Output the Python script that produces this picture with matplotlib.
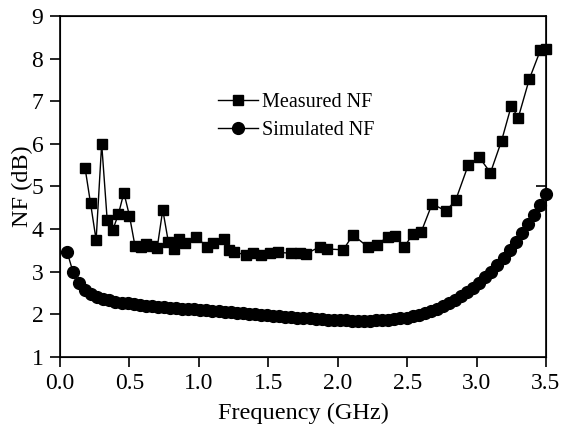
import numpy as np
import matplotlib
matplotlib.use('Agg')
import matplotlib.pyplot as plt

# measured noise figure
meas_f = [0.18, 0.22, 0.26, 0.30, 0.34, 0.38, 0.42, 0.46, 0.50, 0.54, 0.58, 0.62,
          0.66, 0.70, 0.74, 0.78, 0.82, 0.86, 0.90, 0.98, 1.06, 1.10, 1.18, 1.22,
          1.25, 1.34, 1.39, 1.45, 1.51, 1.57, 1.66, 1.73, 1.77, 1.87, 1.92, 2.04,
          2.11, 2.22, 2.28, 2.36, 2.41, 2.48, 2.54, 2.60, 2.68, 2.78, 2.85, 2.94,
          3.02, 3.10, 3.18, 3.25, 3.30, 3.38, 3.46, 3.50]
meas_nf = [5.44, 4.60, 3.74, 6.00, 4.20, 3.98, 4.34, 4.85, 4.31, 3.60, 3.58, 3.65,
           3.60, 3.56, 4.45, 3.70, 3.52, 3.77, 3.68, 3.82, 3.57, 3.66, 3.76, 3.51,
           3.46, 3.39, 3.43, 3.39, 3.43, 3.45, 3.43, 3.43, 3.41, 3.58, 3.53, 3.51,
           3.86, 3.57, 3.62, 3.82, 3.84, 3.58, 3.88, 3.92, 4.59, 4.42, 4.68, 5.50,
           5.68, 5.32, 6.07, 6.89, 6.61, 7.52, 8.20, 8.22]

# simulated noise figure
sim_f = np.linspace(0.05, 3.5, 80)
sim_nf = [3.47, 2.99, 2.72, 2.56, 2.47, 2.41, 2.36, 2.32, 2.29, 2.27,
          2.25, 2.23, 2.21, 2.20, 2.19, 2.17, 2.16, 2.15, 2.14, 2.13,
          2.12, 2.11, 2.10, 2.09, 2.08, 2.07, 2.06, 2.04, 2.03, 2.02,
          2.01, 2.00, 1.98, 1.97, 1.96, 1.95, 1.94, 1.93, 1.92, 1.91,
          1.90, 1.89, 1.88, 1.87, 1.86, 1.85, 1.85, 1.84, 1.84, 1.84,
          1.84, 1.85, 1.86, 1.87, 1.88, 1.90, 1.92, 1.95, 1.98, 2.02,
          2.07, 2.13, 2.19, 2.26, 2.34, 2.42, 2.51, 2.61, 2.72, 2.86,
          3.00, 3.16, 3.31, 3.50, 3.69, 3.90, 4.11, 4.33, 4.56, 4.82]

plt.rcParams['font.family'] = ['Liberation Serif', 'DejaVu Serif']

fig = plt.figure(figsize=(5.63, 4.28), dpi=100)
ax = fig.add_axes([0.1066, 0.1666, 0.8632, 0.796])

ax.plot(meas_f, meas_nf, color='black', lw=1, marker='s', ms=7.5,
        label='Measured NF', clip_on=False, zorder=3)
ax.plot(sim_f, sim_nf, color='black', lw=1, marker='o', ms=8.5,
        label='Simulated NF', clip_on=False, zorder=3)

ax.set_xlim(0, 3.5)
ax.set_ylim(1, 9)
ax.set_xticks(np.arange(0, 3.51, 0.5))
ax.set_yticks(range(1, 10))
ax.xaxis.set_major_formatter(matplotlib.ticker.FormatStrFormatter('%.1f'))
ax.tick_params(direction='out', length=7, width=1.2, labelsize=17, pad=5)
for s in ax.spines.values():
    s.set_linewidth(1.2)

ax.set_xlabel('Frequency (GHz)', fontsize=17.5, labelpad=6)
ax.set_ylabel('NF (dB)', fontsize=17.5, labelpad=-1)

# small inner tick on the right spine
ax2 = ax.twinx()
ax2.set_ylim(1, 9)
ax2.set_yticks([5])
ax2.tick_params(direction='in', length=7, width=1.2, labelright=False)

ax.legend(loc='upper left', bbox_to_anchor=(0.325, 0.775), frameon=False,
          fontsize=14.5, handlelength=2.0, handletextpad=0.2, borderpad=0,
          borderaxespad=0, labelspacing=0.45)

fig.savefig('out.png', dpi=100)
